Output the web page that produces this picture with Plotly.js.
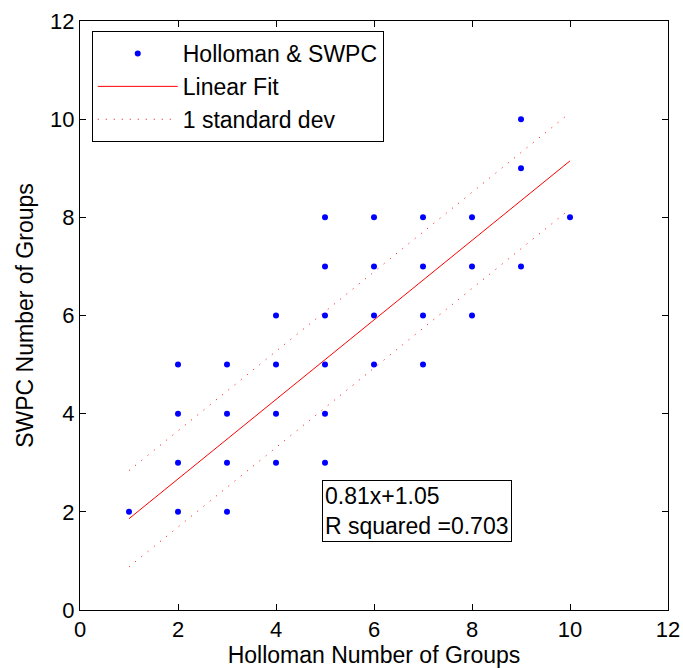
<!DOCTYPE html>
<html><head><meta charset="utf-8">
<script src="https://cdn.plot.ly/plotly-3.0.1.min.js"></script>
<style>body{margin:0;background:#fff}#chart{width:683px;height:668px}</style>
</head><body><div id="chart"></div>
<script>
const hollomanX = [1, 2,2,2,2, 3,3,3,3, 4,4,4,4, 5,5,5,5,5,5, 6,6,6,6, 7,7,7,7, 8,8,8, 9,9,9, 10];
const swpcY     = [2, 2,3,4,5, 2,3,4,5, 3,4,5,6, 3,4,5,6,7,8, 5,6,7,8, 5,6,7,8, 6,7,8, 7,9,10, 8];
const fitSlope = 0.81;
const fitIntercept = 1.05;
const fitStd = 0.98;
const fitX = [1, 10];
const fitY = fitX.map(x => fitSlope * x + fitIntercept);
const upperY = fitY.map(y => y + fitStd);
const lowerY = fitY.map(y => y - fitStd);
const boxText = ["0.81x+1.05", "R squared =0.703"];

const fam = "Liberation Sans, Arial, sans-serif";
const font = {family: fam, size: 23, color: "#000"};
const tickFont = {family: fam, size: 22, color: "#000"};
const traces = [
  {x: hollomanX, y: swpcY, mode: "markers", name: "Holloman & SWPC",
   marker: {color: "#0000ff", size: 6}},
  {x: fitX, y: fitY, mode: "lines", name: "Linear Fit",
   line: {color: "#ff0000", width: 1}},
  {x: fitX, y: upperY, mode: "lines", name: "1 standard dev",
   line: {color: "#ff0000", width: 1, dash: "1px,7px"}},
  {x: fitX, y: lowerY, mode: "lines", name: "1 standard dev", showlegend: false,
   line: {color: "#ff0000", width: 1, dash: "1px,7px"}}
];
const axisCommon = {range: [0, 12], dtick: 2, tick0: 0, showgrid: false, zeroline: false,
  showline: true, linecolor: "#000", linewidth: 1, mirror: "ticks", ticks: "inside",
  ticklen: 6, tickcolor: "#000", tickfont: tickFont, automargin: false};
const layout = {
  width: 683, height: 668, paper_bgcolor: "#fff", plot_bgcolor: "#fff",
  margin: {l: 80, r: 15, t: 21, b: 58},
  font: font,
  xaxis: Object.assign({}, axisCommon, {title: {text: "Holloman Number of Groups", font: font, standoff: 4}}),
  yaxis: Object.assign({}, axisCommon, {title: {text: "SWPC Number of Groups", font: font, standoff: 10}}),
  showlegend: true,
  legend: {x: 0.02, y: 0.983, xanchor: "left", yanchor: "top", bgcolor: "#fff",
    bordercolor: "#000", borderwidth: 1, font: font, itemwidth: 80, tracegroupgap: 0},
  annotations: [{x: 4.94, y: 2.65, xref: "x", yref: "y", xanchor: "left", yanchor: "top",
    text: boxText.join("<br>"), align: "left", showarrow: false, font: font,
    bordercolor: "#000", borderwidth: 1, borderpad: 2, bgcolor: "#fff"}]
};
Plotly.newPlot("chart", traces, layout, {displayModeBar: false, staticPlot: true});
</script></body></html>
